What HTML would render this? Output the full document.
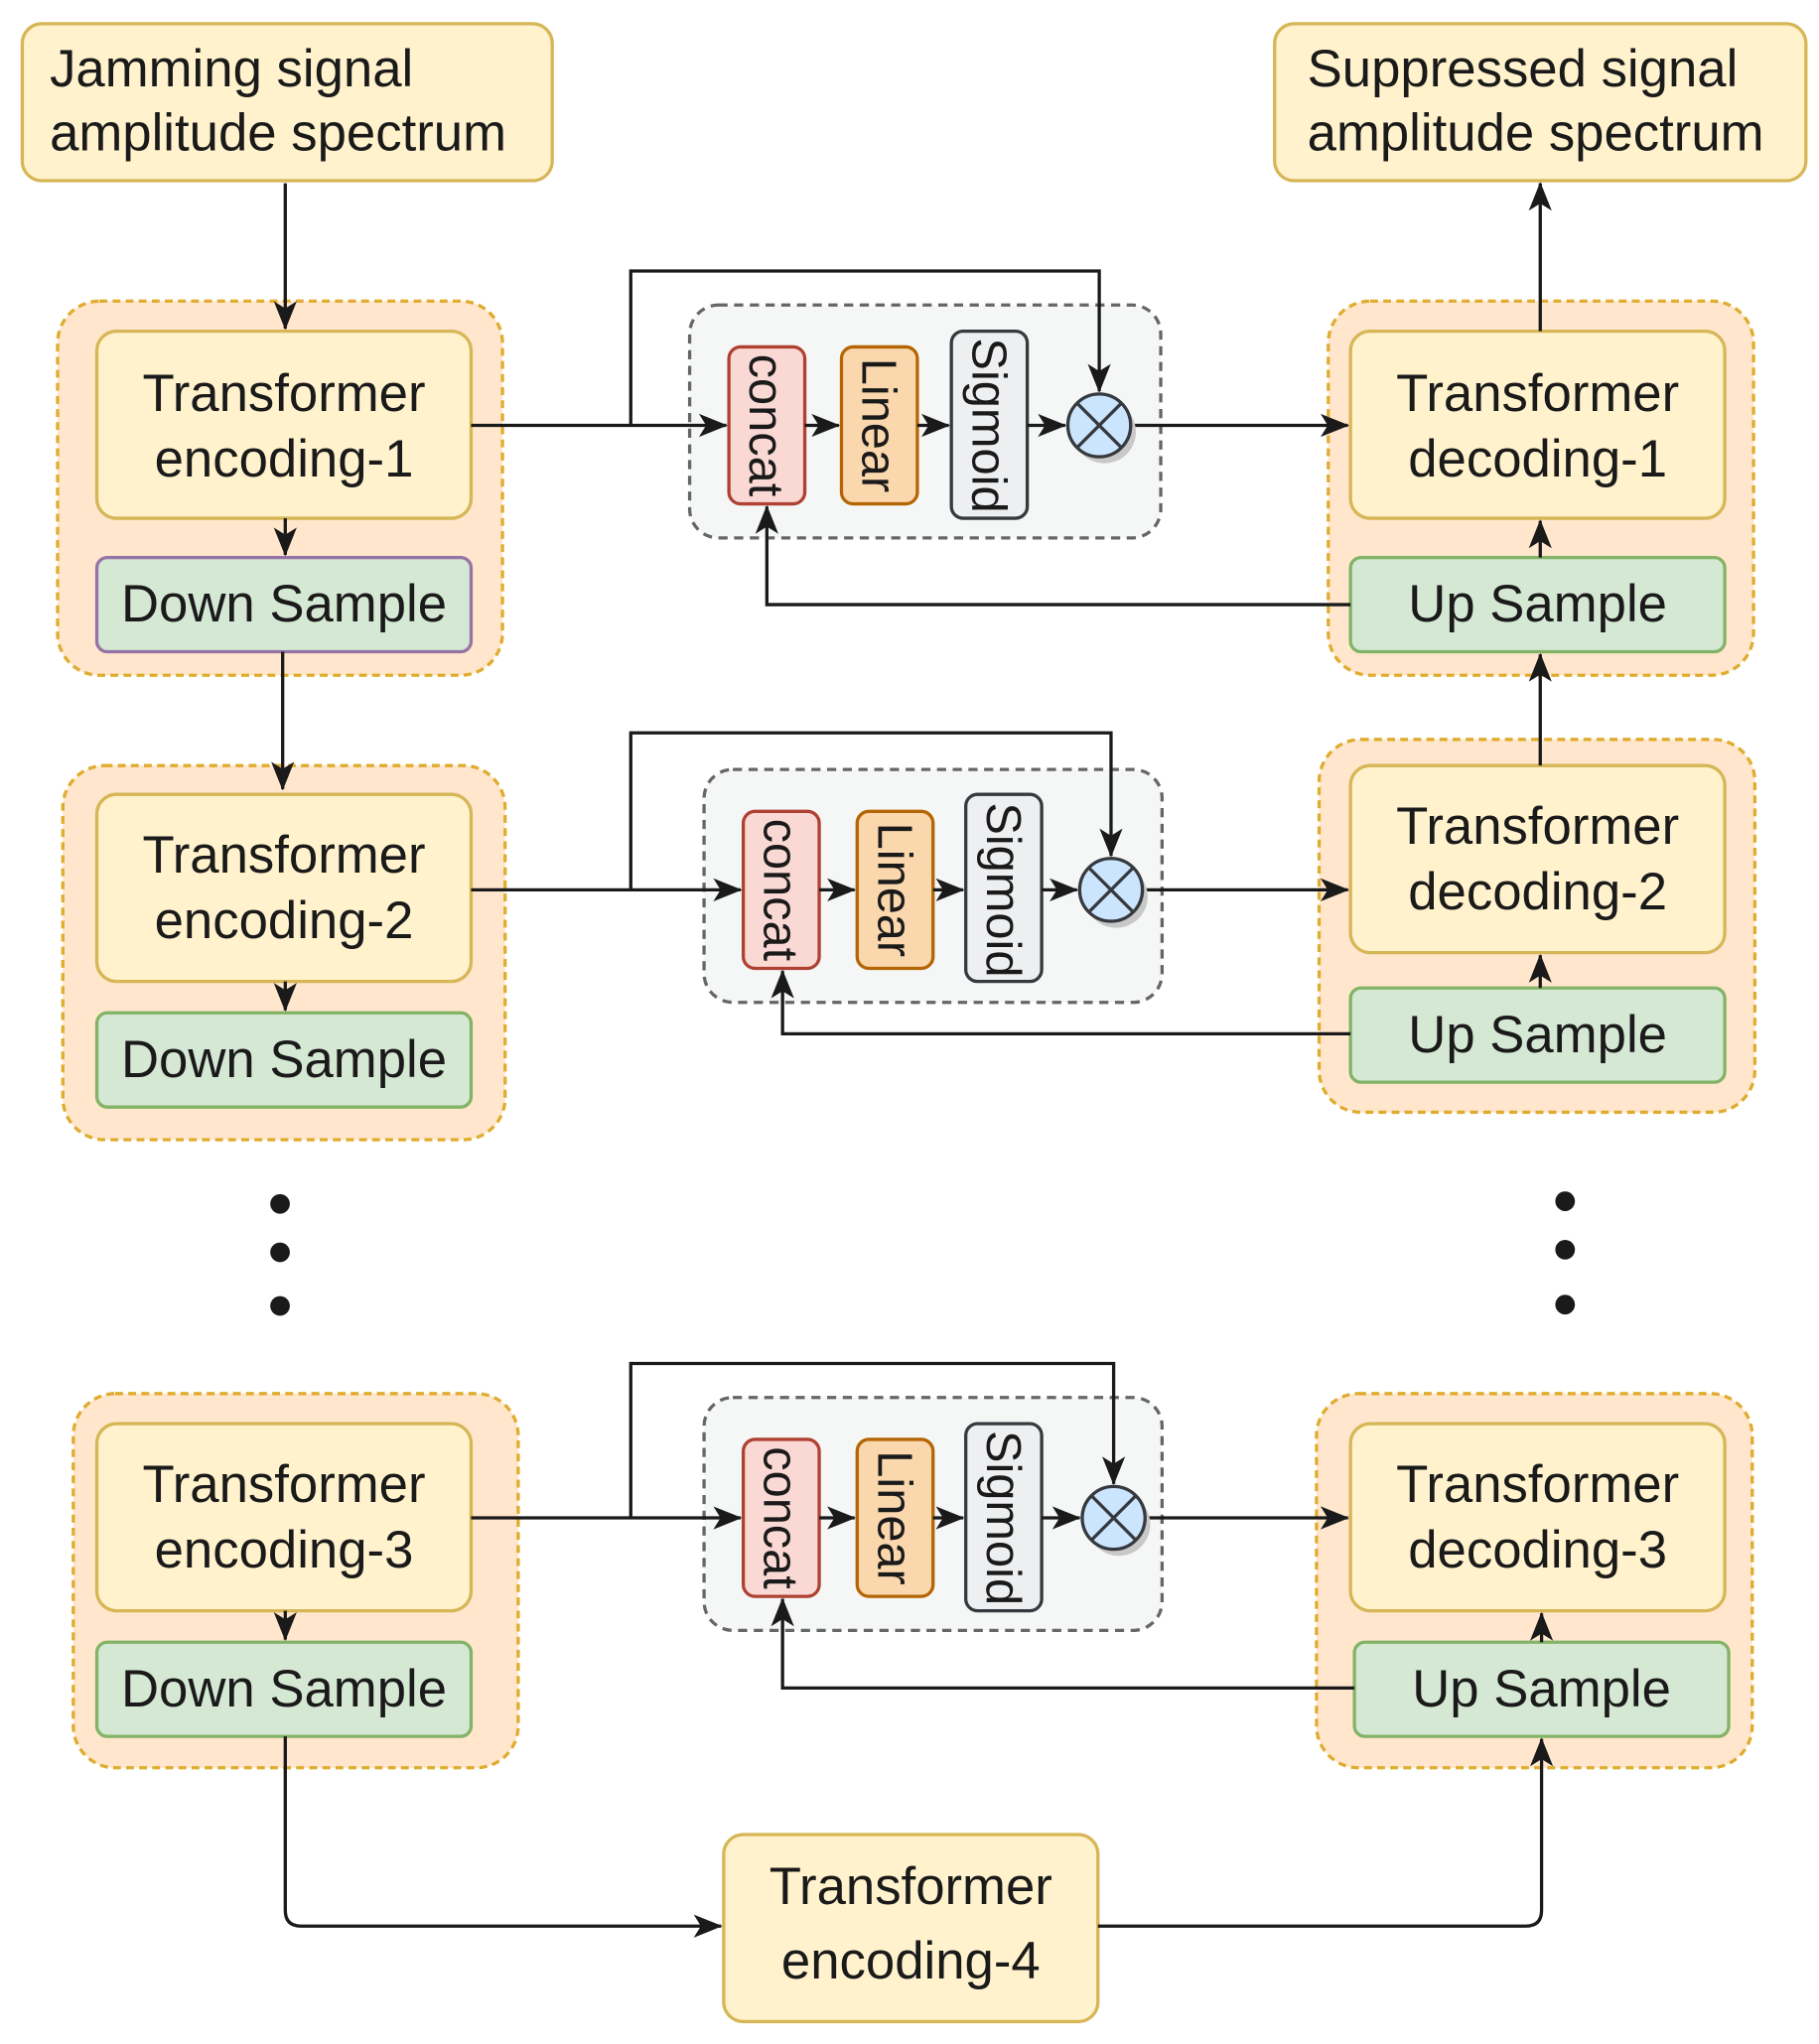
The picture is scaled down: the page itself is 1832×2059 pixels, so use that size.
<!DOCTYPE html>
<html><head><meta charset="utf-8"><style>html,body{margin:0;padding:0;background:#fff}svg{display:block}</style></head>
<body>
<svg width="1832" height="2059" viewBox="0 0 1390 1562" xmlns="http://www.w3.org/2000/svg" font-family="Liberation Sans, Arial, sans-serif" fill="#1a1a1a">
<defs>
<marker id="ar" viewBox="0 0 20 20" refX="19" refY="10" markerWidth="22" markerHeight="22" orient="auto-start-reverse" markerUnits="userSpaceOnUse"><path d="M0,2 L20,10 L0,18 L5,10 Z" fill="#1a1a1a"/></marker>
</defs>
<g stroke-width="2.5">
<rect x="17" y="18" width="405" height="120" rx="15" fill="#fff2cc" stroke="#d6b656"/>
<rect x="974" y="18" width="406" height="120" rx="15" fill="#fff2cc" stroke="#d6b656"/>
<rect x="44" y="230" width="340" height="286" rx="32" fill="#ffe6cc" stroke="#d79b00" stroke-dasharray="6,4" stroke-opacity="0.8"/>
<rect x="48" y="585" width="338" height="286" rx="32" fill="#ffe6cc" stroke="#d79b00" stroke-dasharray="6,4" stroke-opacity="0.8"/>
<rect x="56" y="1065" width="340" height="286" rx="32" fill="#ffe6cc" stroke="#d79b00" stroke-dasharray="6,4" stroke-opacity="0.8"/>
<rect x="1015" y="230" width="325" height="286" rx="32" fill="#ffe6cc" stroke="#d79b00" stroke-dasharray="6,4" stroke-opacity="0.8"/>
<rect x="1008" y="565" width="333" height="285" rx="32" fill="#ffe6cc" stroke="#d79b00" stroke-dasharray="6,4" stroke-opacity="0.8"/>
<rect x="1006" y="1065" width="333" height="286" rx="32" fill="#ffe6cc" stroke="#d79b00" stroke-dasharray="6,4" stroke-opacity="0.8"/>
<rect x="74" y="253" width="286" height="143" rx="15" fill="#fff2cc" stroke="#d6b656"/>
<rect x="74" y="607" width="286" height="143" rx="15" fill="#fff2cc" stroke="#d6b656"/>
<rect x="74" y="1088" width="286" height="143" rx="15" fill="#fff2cc" stroke="#d6b656"/>
<rect x="1032" y="253" width="286" height="143" rx="15" fill="#fff2cc" stroke="#d6b656"/>
<rect x="1032" y="585" width="286" height="143" rx="15" fill="#fff2cc" stroke="#d6b656"/>
<rect x="1032" y="1088" width="286" height="143" rx="15" fill="#fff2cc" stroke="#d6b656"/>
<rect x="553" y="1402" width="286" height="143" rx="15" fill="#fff2cc" stroke="#d6b656"/>
<rect x="74" y="426" width="286" height="72" rx="8" fill="#d5e8d4" stroke="#9673a6"/>
<rect x="74" y="774" width="286" height="72" rx="8" fill="#d5e8d4" stroke="#82b366"/>
<rect x="74" y="1255" width="286" height="72" rx="8" fill="#d5e8d4" stroke="#82b366"/>
<rect x="1032" y="426" width="286" height="72" rx="8" fill="#d5e8d4" stroke="#82b366"/>
<rect x="1032" y="755" width="286" height="72" rx="8" fill="#d5e8d4" stroke="#82b366"/>
<rect x="1035" y="1255" width="286" height="72" rx="8" fill="#d5e8d4" stroke="#82b366"/>
<rect x="527" y="233" width="360" height="178" rx="22" fill="#f5f7f6" stroke="#666" stroke-dasharray="7,5"/>
<rect x="538" y="588" width="350" height="178" rx="22" fill="#f5f7f6" stroke="#666" stroke-dasharray="7,5"/>
<rect x="538" y="1068" width="350" height="178" rx="22" fill="#f5f7f6" stroke="#666" stroke-dasharray="7,5"/>
<rect x="557" y="265" width="58" height="120" rx="9" fill="#fad9d5" stroke="#ae4132"/>
<rect x="643" y="265" width="58" height="120" rx="9" fill="#fad7ac" stroke="#b46504"/>
<rect x="727" y="253" width="58" height="143" rx="9" fill="#eeeff1" stroke="#36393d"/>
<rect x="568" y="620" width="58" height="120" rx="9" fill="#fad9d5" stroke="#ae4132"/>
<rect x="655" y="620" width="58" height="120" rx="9" fill="#fad7ac" stroke="#b46504"/>
<rect x="738" y="607" width="58" height="143" rx="9" fill="#eeeff1" stroke="#36393d"/>
<rect x="568" y="1100" width="58" height="120" rx="9" fill="#fad9d5" stroke="#ae4132"/>
<rect x="655" y="1100" width="58" height="120" rx="9" fill="#fad7ac" stroke="#b46504"/>
<rect x="738" y="1088" width="58" height="143" rx="9" fill="#eeeff1" stroke="#36393d"/>
<g fill="none" stroke="#1a1a1a">
<path d="M218 140 L218 251" marker-end="url(#ar)"/>
<path d="M218 396 L218 424" marker-end="url(#ar)"/>
<path d="M216 498 L216 603" marker-end="url(#ar)"/>
<path d="M218 750 L218 772" marker-end="url(#ar)"/>
<path d="M218 1231 L218 1253" marker-end="url(#ar)"/>
<path d="M218 1327 L218 1460 Q218 1472 230 1472 L551 1472" marker-end="url(#ar)"/>
<path d="M839 1472 L1166 1472 Q1178 1472 1178 1460 L1178 1329" marker-end="url(#ar)"/>
<path d="M1177 253 L1177 140" marker-end="url(#ar)"/>
<path d="M1177 426 L1177 398" marker-end="url(#ar)"/>
<path d="M1177 585 L1177 500" marker-end="url(#ar)"/>
<path d="M1177 755 L1177 730" marker-end="url(#ar)"/>
<path d="M1178 1255 L1178 1233" marker-end="url(#ar)"/>
<path d="M360 325 L555 325" marker-end="url(#ar)"/>
<path d="M482 325 L482 207 L840 207 L840 299" marker-end="url(#ar)"/>
<path d="M615 325 L641 325" marker-end="url(#ar)"/>
<path d="M701 325 L725 325" marker-end="url(#ar)"/>
<path d="M785 325 L814 325" marker-end="url(#ar)"/>
<path d="M864 325 L1030 325" marker-end="url(#ar)"/>
<path d="M1032 462 L586 462 L586 387" marker-end="url(#ar)"/>
<path d="M360 680 L566 680" marker-end="url(#ar)"/>
<path d="M482 680 L482 560 L849 560 L849 654" marker-end="url(#ar)"/>
<path d="M626 680 L653 680" marker-end="url(#ar)"/>
<path d="M713 680 L736 680" marker-end="url(#ar)"/>
<path d="M796 680 L823 680" marker-end="url(#ar)"/>
<path d="M873 680 L1030 680" marker-end="url(#ar)"/>
<path d="M1032 790 L598 790 L598 742" marker-end="url(#ar)"/>
<path d="M360 1160 L566 1160" marker-end="url(#ar)"/>
<path d="M482 1160 L482 1042 L851 1042 L851 1134" marker-end="url(#ar)"/>
<path d="M626 1160 L653 1160" marker-end="url(#ar)"/>
<path d="M713 1160 L736 1160" marker-end="url(#ar)"/>
<path d="M796 1160 L825 1160" marker-end="url(#ar)"/>
<path d="M875 1160 L1030 1160" marker-end="url(#ar)"/>
<path d="M1035 1290 L598 1290 L598 1222" marker-end="url(#ar)"/>
</g>
<g stroke="#36393d">
<circle cx="844" cy="330" r="24" fill="#c8c8c8" stroke="none"/>
<circle cx="840" cy="325" r="24" fill="#cce5ff"/>
<path d="M823 308 L857 342 M857 308 L823 342" fill="none"/>
<circle cx="853" cy="685" r="24" fill="#c8c8c8" stroke="none"/>
<circle cx="849" cy="680" r="24" fill="#cce5ff"/>
<path d="M832 663 L866 697 M866 663 L832 697" fill="none"/>
<circle cx="855" cy="1165" r="24" fill="#c8c8c8" stroke="none"/>
<circle cx="851" cy="1160" r="24" fill="#cce5ff"/>
<path d="M834 1143 L868 1177 M868 1143 L834 1177" fill="none"/>
</g>
</g>
<g fill="#1a1a1a">
<circle cx="214" cy="920" r="7.5"/><circle cx="214" cy="957" r="7.5"/><circle cx="214" cy="998" r="7.5"/>
<circle cx="1196" cy="918" r="7.5"/><circle cx="1196" cy="955" r="7.5"/><circle cx="1196" cy="997" r="7.5"/>
</g>
<g font-size="40">
<text x="38" y="66">Jamming signal</text>
<text x="38" y="115">amplitude spectrum</text>
<text x="999" y="66">Suppressed signal</text>
<text x="999" y="115">amplitude spectrum</text>
<g text-anchor="middle">
<text x="217" y="314">Transformer</text><text x="217" y="364">encoding-1</text>
<text x="217" y="667">Transformer</text><text x="217" y="717">encoding-2</text>
<text x="217" y="1148">Transformer</text><text x="217" y="1198">encoding-3</text>
<text x="696" y="1455">Transformer</text><text x="696" y="1512">encoding-4</text>
<text x="1175" y="314">Transformer</text><text x="1175" y="364">decoding-1</text>
<text x="1175" y="645">Transformer</text><text x="1175" y="695">decoding-2</text>
<text x="1175" y="1148">Transformer</text><text x="1175" y="1198">decoding-3</text>
<text x="217" y="475">Down Sample</text>
<text x="217" y="823">Down Sample</text>
<text x="217" y="1304">Down Sample</text>
<text x="1175" y="475">Up Sample</text>
<text x="1175" y="804">Up Sample</text>
<text x="1178" y="1304">Up Sample</text>
</g>
<g font-size="37" text-anchor="middle">
<text transform="translate(586,325) rotate(90)" y="13">concat</text>
<text transform="translate(672,325) rotate(90)" y="13">Linear</text>
<text transform="translate(756,325) rotate(90)" y="13">Sigmoid</text>
<text transform="translate(597,680) rotate(90)" y="13">concat</text>
<text transform="translate(684,680) rotate(90)" y="13">Linear</text>
<text transform="translate(767,680) rotate(90)" y="13">Sigmoid</text>
<text transform="translate(597,1160) rotate(90)" y="13">concat</text>
<text transform="translate(684,1160) rotate(90)" y="13">Linear</text>
<text transform="translate(767,1160) rotate(90)" y="13">Sigmoid</text>
</g>
</g>
</svg>
</body></html>
